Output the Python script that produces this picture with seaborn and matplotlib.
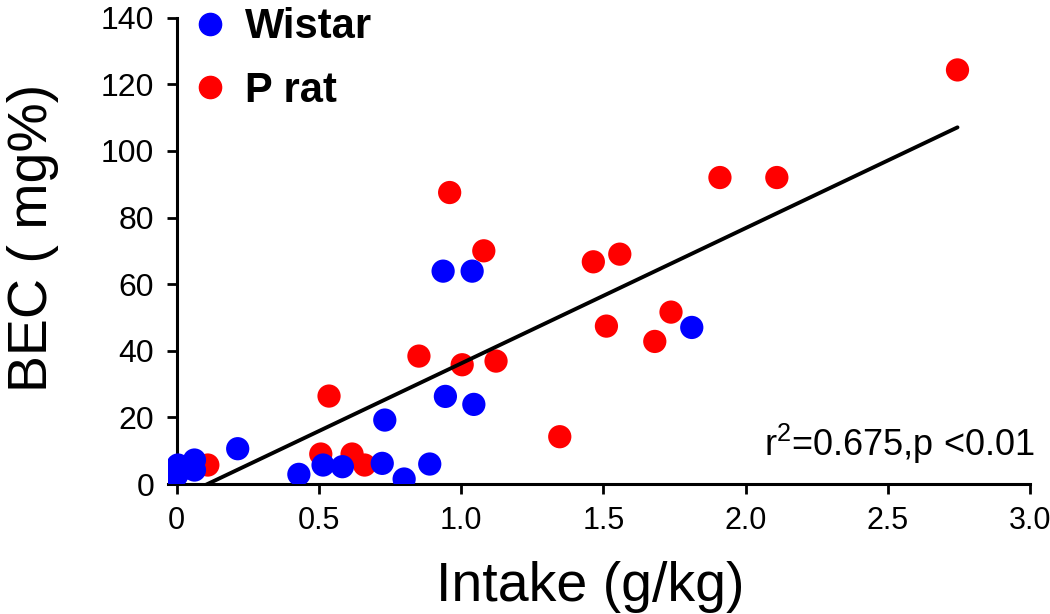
import numpy as np
import matplotlib
matplotlib.use('Agg')
import matplotlib.pyplot as plt
import pandas as pd
import seaborn as sns

# values: intake (g/kg) and BEC (mg%)
prat_intake = [2.745, 1.91, 2.11, 0.96, 1.08, 1.465, 1.558, 1.738, 1.511, 1.681,
               0.852, 1.004, 1.123, 1.347, 0.536, 0.507, 0.617, 0.661, 0.11]
prat_bec = [124.3, 92.0, 92.0, 87.5, 70.0, 66.7, 69.0, 51.6, 47.4, 42.8,
            38.4, 35.8, 36.9, 14.2, 26.4, 9.0, 9.0, 5.7, 5.7]

wistar_intake = [0.937, 1.039, 1.811, 0.945, 1.045, 0.732, 0.215, 0.515, 0.583,
                 0.723, 0.430, 0.800, 0.890, 0.005, 0.0, 0.063, 0.063, 0.034]
wistar_bec = [63.9, 63.9, 47.0, 26.3, 23.9, 19.2, 10.6, 5.7, 5.2,
              6.2, 2.9, 1.5, 6.0, 5.7, 2.5, 7.2, 4.2, 4.8]

groups = ['Wistar', 'P rat']
colors = {'Wistar': 'blue', 'P rat': 'red'}
xticks = [0, 0.5, 1.0, 1.5, 2.0, 2.5, 3.0]
xticklabels = ['0', '0.5', '1.0', '1.5', '2.0', '2.5', '3.0']
yticks = [0, 20, 40, 60, 80, 100, 120, 140]
stat_text = r'r$^2$=0.675,p <0.01'

# red first so the blue dots sit on top, like the original
df = pd.concat([
    pd.DataFrame({'intake': prat_intake, 'bec': prat_bec, 'group': 'P rat'}),
    pd.DataFrame({'intake': wistar_intake, 'bec': wistar_bec, 'group': 'Wistar'}),
], ignore_index=True)

sns.set_style('white')
plt.rcParams['font.family'] = ['Liberation Sans', 'DejaVu Sans']
plt.rcParams.update({
    'text.color': 'black', 'axes.labelcolor': 'black',
    'xtick.color': 'black', 'ytick.color': 'black',
    'mathtext.fontset': 'custom', 'mathtext.rm': 'Liberation Sans',
    'mathtext.it': 'Liberation Sans:italic', 'mathtext.bf': 'Liberation Sans:bold',
})

fig = plt.figure(figsize=(10.5, 6.14), dpi=100)
ax = fig.add_axes([0.160, 0.2117, 0.821, 0.7596])

sns.scatterplot(data=df, x='intake', y='bec', hue='group', palette=colors,
                s=280, linewidth=0, legend=False, ax=ax, zorder=3)
sns.regplot(data=df, x='intake', y='bec', scatter=False, ci=None,
            color='black', line_kws={'lw': 2.8, 'zorder': 4}, ax=ax)

ax.set_xlim(-0.03, 3.0)
ax.set_ylim(0, 140)
ax.set_xticks(xticks)
ax.set_xticklabels(xticklabels)
ax.set_yticks(yticks)

for side in ['top', 'right']:
    ax.spines[side].set_visible(False)
for side in ['left', 'bottom']:
    ax.spines[side].set_linewidth(2.2)
    ax.spines[side].set_color('black')
ax.spines['left'].set_position(('data', 0))
ax.spines['left'].set_zorder(2)

ax.tick_params(axis='both', direction='out', length=7, width=2, color='black',
               labelsize=23, pad=9, left=True, bottom=True)
ax.tick_params(axis='x', labelsize=22)

ax.set_xlabel('Intake (g/kg)', fontsize=40)
ax.set_ylabel('BEC ( mg%)', fontsize=40)
ax.xaxis.set_label_coords(0.49, -0.166)
ax.yaxis.set_label_coords(-0.127, 0.528)

ax.text(1.006, 0.06, stat_text, transform=ax.transAxes, ha='right',
        va='baseline', fontsize=26)

handles = [plt.Line2D([], [], marker='o', ls='', color=colors[g], markersize=16)
           for g in groups]
ax.legend(handles, groups, loc='upper left', bbox_to_anchor=(0.0244, 1.022),
          frameon=False, borderpad=0, borderaxespad=0, handletextpad=0.34,
          handlelength=1.0, labelspacing=0.56,
          prop={'size': 30, 'weight': 'bold'})

fig.savefig('out.png', dpi=100)
